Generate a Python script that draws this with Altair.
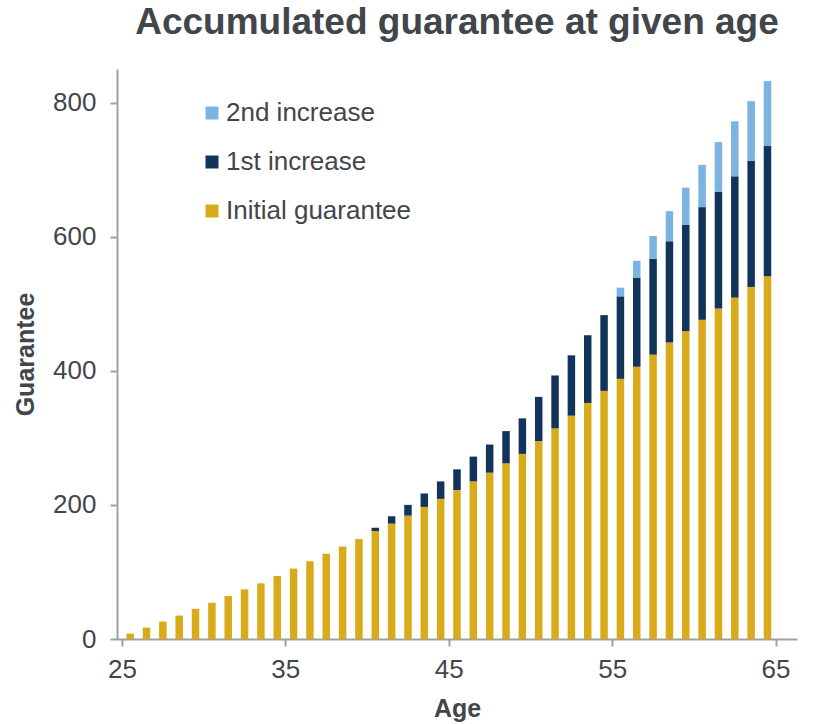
import altair as alt
import pandas as pd

# Ages covered by the guarantee schedule
ages = list(range(25, 65))

# Initial guarantee accumulated at each age
initial = [8, 17, 26, 35, 45, 54, 64, 74, 83, 94,
           105, 116, 127, 138, 149, 161, 172, 184, 197, 209,
           222, 235, 248, 262, 276, 295, 314, 333, 352, 370,
           388, 406, 424, 442, 459, 476, 493, 509, 525, 541]

# Extra guarantee from the first increase (starts at age 40)
first_inc = [0] * 15 + [5, 11, 16, 20, 26,
                        31, 37, 42, 48, 53, 66, 79, 90, 101, 113,
                        123, 133, 143, 151, 159, 168, 174, 181, 188, 194]

# Extra guarantee from the second increase (starts at age 55)
second_inc = [0] * 30 + [13, 25, 34, 45, 55, 63, 74, 82, 89, 97]

series_names = ["Initial guarantee", "1st increase", "2nd increase"]
series_values = [initial, first_inc, second_inc]

rows = []
for rank, (name, vals) in enumerate(zip(series_names, series_values)):
    for age, v in zip(ages, vals):
        if v > 0:
            rows.append({"Age": age, "Series": name, "Value": v, "rank": rank})
df = pd.DataFrame(rows)

text_color = "#42464b"
axis_color = "#a0a0a0"
font = "Liberation Sans"

legend_order = ["2nd increase", "1st increase", "Initial guarantee"]
legend_colors = ["#7db3e1", "#13345a", "#d9ab1a"]

plot_w, plot_h = 680, 570
half_year_px = plot_w / 41 / 2

chart = (
    alt.Chart(df)
    .mark_bar(size=7.5)
    .encode(
        x=alt.X(
            "Age:Q",
            scale=alt.Scale(domain=[24.5, 65.5], nice=False, zero=False),
            axis=alt.Axis(
                values=[25, 35, 45, 55, 65],
                tickOffset=-half_year_px,
                title="Age",
                grid=False,
                format="d",
            ),
        ),
        y=alt.Y(
            "Value:Q",
            stack="zero",
            scale=alt.Scale(domain=[0, 850], nice=False),
            axis=alt.Axis(values=[0, 200, 400, 600, 800], title="Guarantee", grid=False),
        ),
        color=alt.Color(
            "Series:N",
            scale=alt.Scale(domain=legend_order, range=legend_colors),
            legend=alt.Legend(
                title=None,
                orient="none",
                legendX=82,
                legendY=31,
                symbolType="square",
                symbolSize=169,
                symbolStrokeWidth=0,
                labelFontSize=26,
                labelColor=text_color,
                labelFont=font,
                labelLimit=400,
                rowPadding=23,
                labelOffset=1,
            ),
        ),
        order=alt.Order("rank:Q", sort="ascending"),
    )
    .properties(
        width=plot_w,
        height=plot_h,
        padding={"left": 13, "top": 4, "right": 5, "bottom": 5},
        title=alt.Title(
            "Accumulated guarantee at given age",
            fontSize=37,
            font=font,
            fontWeight="bold",
            color=text_color,
            anchor="middle",
            offset=27,
        ),
    )
    .configure_view(stroke=None)
    .configure_axis(
        domainColor=axis_color,
        domainWidth=2,
        tickColor=axis_color,
        tickWidth=2,
        tickSize=7,
        labelFont=font,
        labelFontSize=26,
        labelColor=text_color,
        titleFont=font,
        titleFontSize=25,
        titleFontWeight="bold",
        titleColor=text_color,
    )
    .configure_axisX(labelPadding=10, titlePadding=14)
    .configure_axisY(labelPadding=14, titlePadding=14)
)

chart.save("out.html", embed_options={"renderer": "svg", "actions": False})
